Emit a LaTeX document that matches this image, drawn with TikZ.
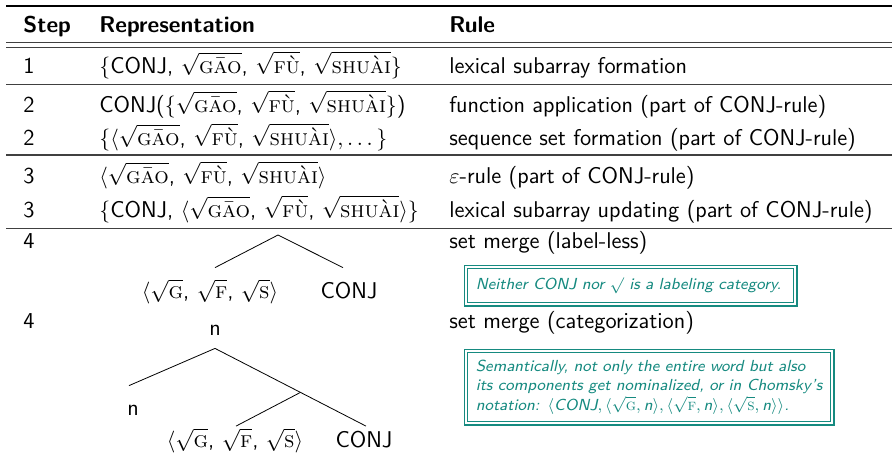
\documentclass[tikz,border=0pt]{standalone}
\usepackage{amsmath}
\usetikzlibrary{calc}

\definecolor{noteteal}{RGB}{22,138,128}
\newcommand{\rt}[1]{\sqrt{\textnormal{\textsc{#1}}}}

\tikzset{
  cell/.style={anchor=base west, inner sep=0pt},
  leaf/.style={anchor=base, text height=9pt, text depth=2pt, inner xsep=0pt, inner ysep=#1},
  leaf/.default=1.25pt,
  tabrule/.style={line width=0.6pt, black!75},
  notebox/.style={draw=noteteal, double=white, double distance=1pt, line width=0.6pt,
    text=noteteal, anchor=north west, align=left, inner xsep=5pt,
    font=\fontsize{8}{9.6}\selectfont\sffamily\itshape},
}

\begin{document}
\begin{tikzpicture}[x=0.5pt,y=-0.5pt,font=\fontsize{11.4}{13}\selectfont\sffamily]

  \def\xs{23}	 %step column
  \def\xr{99}	 %representation column
  \def\xu{449} %rule column

  \useasboundingbox (0,0) rectangle (893,457);

  %RULES OF THE TABLE
  \draw[line width=0.6pt] (6,6)--(892,6);
  \draw[tabrule] (6,42.3)--(892,42.3);	\draw[tabrule] (6,47.7)--(892,47.7);	%double line below header
  \draw[tabrule] (6,84.3)--(892,84.3);
  \draw[tabrule] (6,155)--(892,155);
  \draw[tabrule] (6,228.5)--(892,228.5);

  %HEADER
  \node[cell] (hstep) at (\xs,32) {\textbf{Step}};
  \node[cell] (hrep) at (\xr,32) {\textbf{Representation}};
  \node[cell] (hrule) at (\xu,32) {\textbf{Rule}};

  %STEP 1
  \node[cell] (s1) at (\xs,73) {1};
  \node[cell] (r1) at (\xr,73) {$\{$CONJ, $\rt{g\=ao}$, $\rt{f\`u}$, $\rt{shu\`ai}\}$};
  \node[cell] (u1) at (\xu,73) {lexical subarray formation};

  %STEP 2
  \node[cell] (s2a) at (\xs,112) {2};
  \node[cell] (r2a) at (\xr,112) {CONJ($\{\rt{g\=ao}$, $\rt{f\`u}$, $\rt{shu\`ai}\}$)};
  \node[cell] (u2a) at (\xu,112) {function application (part of CONJ-rule)};
  \node[cell] (s2b) at (\xs,145) {2};
  \node[cell] (r2b) at (\xr,145) {$\{\langle\rt{g\=ao}$, $\rt{f\`u}$, $\rt{shu\`ai}\rangle,\dots\}$};
  \node[cell] (u2b) at (\xu,145) {sequence set formation (part of CONJ-rule)};

  %STEP 3
  \node[cell] (s3a) at (\xs,183) {3};
  \node[cell] (r3a) at (\xr,183) {$\langle\rt{g\=ao}$, $\rt{f\`u}$, $\rt{shu\`ai}\rangle$};
  \node[cell] (u3a) at (\xu,183) {$\varepsilon$-rule (part of CONJ-rule)};
  \node[cell] (s3b) at (\xs,217) {3};
  \node[cell] (r3b) at (\xr,217) {$\{$CONJ, $\langle\rt{g\=ao}$, $\rt{f\`u}$, $\rt{shu\`ai}\rangle\}$};
  \node[cell] (u3b) at (\xu,217) {lexical subarray updating (part of CONJ-rule)};

  %STEP 4, label-less
  \node[cell] (s4a) at (\xs,248) {4};
  \node[cell] (u4a) at (\xu,248) {set merge (label-less)};
  \coordinate (m1) at (278,235);
  \node[leaf=6pt] (m1l) at (210,298) {$\langle\rt{g}$, $\rt{f}$, $\rt{s}\rangle$};
  \node[leaf=6pt] (m1r) at (349,298) {CONJ};
  \draw (m1)--($(m1l.north)+(5,0)$);
  \draw (m1)--($(m1r.north)+(-6,0)$);
  \node[notebox, minimum width=164.8pt, minimum height=18.8pt, text width=154.8pt] (note1) at (465.2,266.2)
    {Neither CONJ nor $\surd$ is a labeling category.};

  %STEP 4, categorization
  \node[cell] (s4b) at (\xs,328) {4};
  \node[cell] (u4b) at (\xu,328) {set merge (categorization)};
  \node[leaf=6.5pt, text depth=0pt] (n0) at (215,335) {n};
  \node[leaf=5.5pt] (n1) at (133,415) {n};
  \node[leaf] (m2l) at (235,447) {$\langle\rt{g}$, $\rt{f}$, $\rt{s}\rangle$};
  \node[leaf] (m2r) at (364,447) {CONJ};
  \coordinate (m2) at ($(n0.south)!0.566!($(m2r.north)+(2,0)$)$);
  \draw (n0.south)--($(n1.north)+(-4,0)$);
  \draw (n0.south)--($(m2r.north)+(2,0)$);
  \draw (m2)--($(m2l.north)+(1,0)$);
  \node[notebox, minimum width=183.3pt, minimum height=36.3pt, text width=173.3pt] (note2) at (465.2,350.2)
    {\mbox{Semantically, not only the entire word but also}\\
     \mbox{its components get nominalized, or in Chomsky's}\\
     \mbox{notation: $\langle\text{CONJ},\langle\rt{g},\text{n}\rangle,\langle\rt{f},\text{n}\rangle,\langle\rt{s},\text{n}\rangle\rangle$.}};

\end{tikzpicture}
\end{document}
